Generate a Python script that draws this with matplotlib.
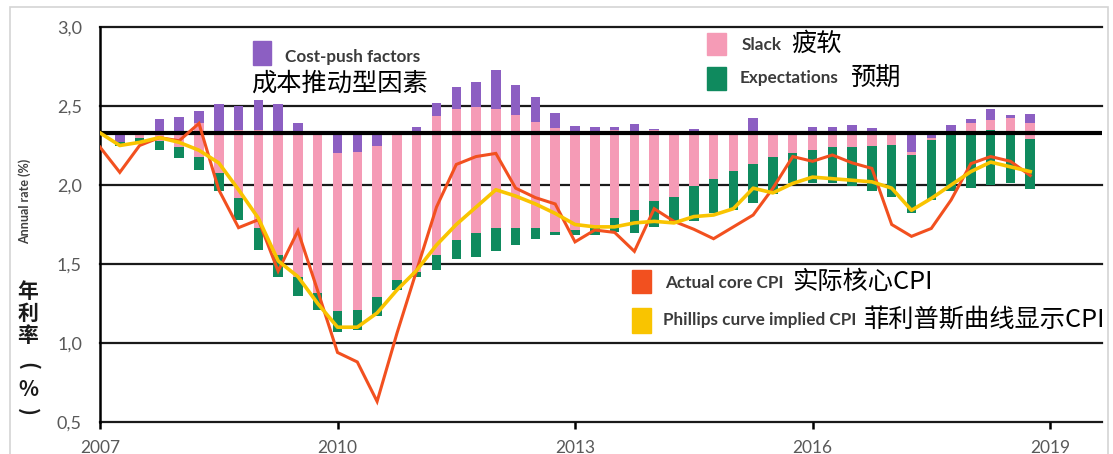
import numpy as np
import matplotlib.pyplot as plt
from matplotlib.patches import Rectangle

plt.rcParams['font.family'] = ['Lato', 'Noto Sans CJK SC', 'DejaVu Sans']

# kwartały 2007Q1 .. 2018Q4
dates = 2007 + np.arange(48) / 4
bar_dates = dates[1:]

BASELINE = 2.33

# słupki: dolna krawędź + udziały (od dołu: oczekiwania, luka, czynniki kosztowe)
bar_base = [2.25, 2.27, 2.22, 2.17, 2.095, 1.96, 1.78, 1.59, 1.42, 1.30,
            1.21, 1.07, 1.08, 1.17, 1.335, 1.42, 1.46, 1.53, 1.546, 1.58,
            1.62, 1.656, 1.684, 1.684, 1.684, 1.705, 1.694, 1.736, 1.768, 1.774,
            1.82, 1.842, 1.888, 1.943, 2.015, 2.015, 2.01, 1.994, 1.96, 1.926,
            1.825, 1.908, 1.96, 1.98, 2.00, 2.01, 1.973]
expectations = [0.02, 0.03, 0.06, 0.07, 0.085, 0.115, 0.14, 0.14, 0.14, 0.12,
                0.105, 0.13, 0.13, 0.12, 0.065, 0.03, 0.10, 0.12, 0.148, 0.15,
                0.105, 0.07, 0.02, 0.03, 0.05, 0.085, 0.145, 0.16, 0.158, 0.22,
                0.22, 0.247, 0.248, 0.232, 0.19, 0.205, 0.23, 0.248, 0.29, 0.327,
                0.365, 0.377, 0.37, 0.35, 0.35, 0.326, 0.316]
slack = [0.0, 0.02, 0.05, 0.10, 0.21, 0.25, 0.43, 0.62, 0.78, 0.915,
         1.00, 1.00, 1.00, 0.96, 0.93, 0.89, 0.875, 0.83, 0.80, 0.75,
         0.72, 0.674, 0.654, 0.63, 0.61, 0.555, 0.50, 0.45, 0.41, 0.35,
         0.295, 0.24, 0.20, 0.155, 0.125, 0.12, 0.10, 0.09, 0.08, 0.063,
         0.02, 0.01, 0.01, 0.06, 0.06, 0.085, 0.105]
cost_push = [0.06, 0.01, 0.09, 0.09, 0.08, 0.19, 0.15, 0.19, 0.17, 0.055,
             0.025, 0.13, 0.12, 0.08, 0.0, 0.03, 0.085, 0.14, 0.16, 0.245,
             0.19, 0.155, 0.095, 0.03, 0.025, 0.02, 0.045, 0.01, 0.0, 0.01,
             0.0, 0.0, 0.09, 0.0, 0.0, 0.03, 0.025, 0.047, 0.03, 0.02,
             0.12, 0.04, 0.04, 0.03, 0.07, 0.02, 0.055]

actual_cpi = [2.24, 2.08, 2.25, 2.30, 2.28, 2.39, 1.97, 1.73, 1.78, 1.455,
              1.71, 1.33, 0.94, 0.88, 0.63, 1.06, 1.46, 1.86, 2.13, 2.18,
              2.20, 1.98, 1.92, 1.88, 1.64, 1.715, 1.70, 1.58, 1.85, 1.77,
              1.72, 1.66, 1.735, 1.81, 1.98, 2.18, 2.15, 2.19, 2.14, 2.105,
              1.75, 1.675, 1.725, 1.905, 2.135, 2.18, 2.15, 2.06]
phillips_cpi = [2.33, 2.25, 2.27, 2.30, 2.27, 2.22, 2.14, 1.97, 1.79, 1.52,
                1.42, 1.25, 1.10, 1.10, 1.19, 1.335, 1.46, 1.62, 1.75, 1.86,
                1.97, 1.93, 1.88, 1.82, 1.75, 1.735, 1.735, 1.76, 1.77, 1.76,
                1.80, 1.81, 1.85, 1.98, 1.95, 2.01, 2.05, 2.04, 2.03, 2.02,
                1.98, 1.84, 1.915, 2.00, 2.085, 2.145, 2.115, 2.085]

yticks = [0.5, 1.0, 1.5, 2.0, 2.5, 3.0]
xticks = [2007, 2010, 2013, 2016, 2019]

c_purple = '#8c5fc2'
c_pink = '#f59bb6'
c_green = '#0f8a5e'
c_red = '#f2501f'
c_yellow = '#f9c400'

W, H = 1113, 454
fig = plt.figure(figsize=(W / 100, H / 100), dpi=100)
ax = fig.add_axes([100 / W, 1 - 422 / H, 1002 / W, 395 / H])


def fx(x):
    return x / W


def fy(y):
    return 1 - y / H


# siatka pozioma
for v in yticks:
    ax.axhline(v, color='#1a1a1a', lw=1.6, zorder=0.5, clip_on=False)

# słupki skumulowane
bw = 0.12
b = np.array(bar_base)
e = np.array(expectations)
s = np.array(slack)
c = np.array(cost_push)
ax.bar(bar_dates, e, bottom=b, width=bw, color=c_green, zorder=2)
ax.bar(bar_dates, s, bottom=b + e, width=bw, color=c_pink, zorder=2)
ax.bar(bar_dates, c, bottom=b + e + s, width=bw, color=c_purple, zorder=2)

ax.axhline(BASELINE, color='black', lw=3, zorder=3)

ax.plot(dates, actual_cpi, color=c_red, lw=2.2, zorder=4, solid_joinstyle='miter')
ax.plot(dates, phillips_cpi, color=c_yellow, lw=2.6, zorder=5, solid_joinstyle='round')

ax.set_xlim(2007, 2007 + 1002 / 79.17)
ax.set_ylim(0.5, 3.0)
for sp in ['top', 'right', 'bottom']:
    ax.spines[sp].set_visible(False)
ax.spines['left'].set_linewidth(1.8)
ax.spines['left'].set_color('black')

ax.set_yticks(yticks)
ax.set_yticklabels([f'{v:.1f}'.replace('.', ',') for v in yticks])
ax.tick_params(axis='y', length=0, pad=13, labelsize=13, labelcolor='#595959')
ax.set_xticks(xticks)
ax.set_xticklabels([str(t) for t in xticks])
ax.tick_params(axis='x', direction='out', length=5, width=1.8, color='black',
               pad=8, labelsize=12.5, labelcolor='#595959')
ax.patch.set_alpha(0)

# ramka wokół wykresu
fig.add_artist(Rectangle((fx(10), -0.1), fx(1098), fy(7) + 0.1, transform=fig.transFigure,
                         fill=False, edgecolor='#d4d4d4', lw=1.2))

cjk = ['Noto Sans CJK SC', 'DejaVu Sans']

# opis osi Y
fig.text(fx(25), fy(201), 'Annual rate (%)', rotation=90, ha='center', va='center',
         fontsize=9, fontweight='bold', color='#404040')
for ch, yc, rot in zip(['年', '利', '率', '(', '%', ')'],
                       [292, 313, 336, 366, 389, 412],
                       [0, 0, 0, -90, 0, -90]):
    fig.text(fx(28), fy(yc), ch, ha='center', va='center', fontsize=15, rotation=rot,
             fontweight='bold', color='#1a1a1a', family=cjk)

# legenda
def legend_item(x0, y0, w, h, color, en, ex, ey, zh, zx, zy):
    fig.add_artist(Rectangle((fx(x0), fy(y0 + h)), w / W, h / H, transform=fig.transFigure,
                             color=color))
    fig.text(fx(ex), fy(ey), en, ha='left', va='center', fontsize=12.3,
             fontweight='bold', color='#3b3b3b')
    fig.text(fx(zx), fy(zy), zh, ha='left', va='center', fontsize=18.2,
             fontweight='medium', color='black', family=cjk)


legend_item(253, 41, 18, 24, c_purple, 'Cost-push factors', 285, 57, '成本推动型因素', 251, 84)
legend_item(707, 33, 19, 22, c_pink, 'Slack', 742, 45, '疲软', 791, 44)
legend_item(707, 67, 19, 23, c_green, 'Expectations', 740, 78, '预期', 850, 79)
legend_item(632, 270, 19, 23, c_red, 'Actual core CPI', 665, 283, '实际核心CPI', 792, 282)
legend_item(632, 308, 19, 25, c_yellow, 'Phillips curve implied CPI', 663, 320,
            '菲利普斯曲线显示CPI', 864, 320)

plt.savefig('out.png', dpi=100)
